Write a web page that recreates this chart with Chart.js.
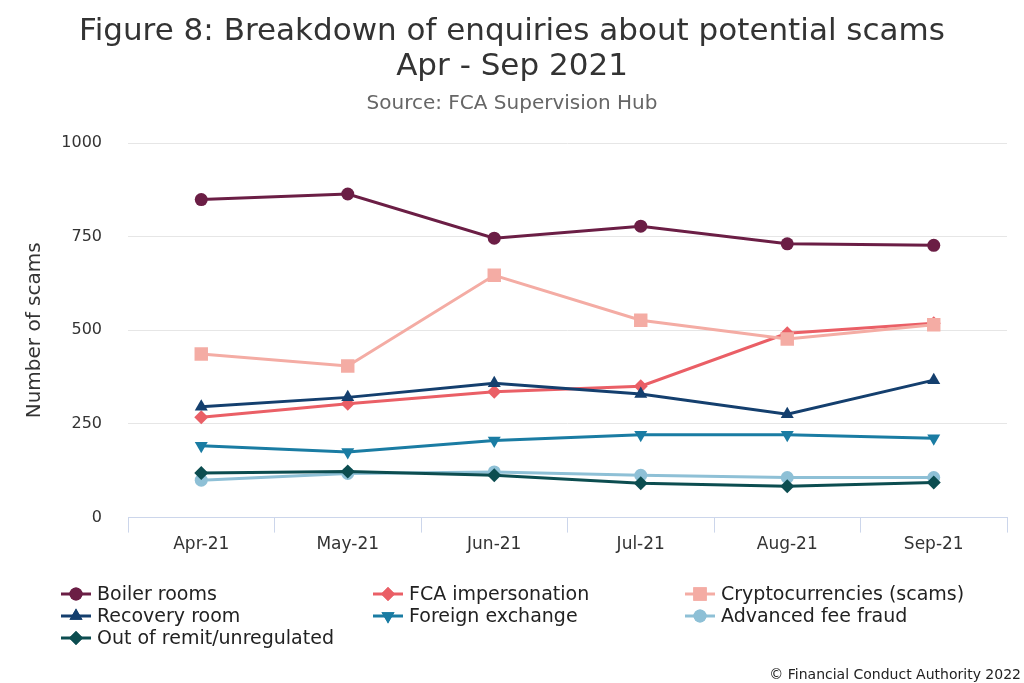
<!DOCTYPE html>
<html>
<head>
<meta charset="utf-8">
<script src="https://cdn.jsdelivr.net/npm/chart.js@4"></script>
<style>
html,body{margin:0;padding:0;background:#fff;}
#wrap{width:1024px;height:683px;position:relative;}
</style>
</head>
<body>
<div id="wrap"><canvas id="c" width="1024" height="683"></canvas></div>
<script>
const categories = ['Apr-21','May-21','Jun-21','Jul-21','Aug-21','Sep-21'];
const seriesNames = ['Boiler rooms','FCA impersonation','Cryptocurrencies (scams)','Recovery room','Foreign exchange','Advanced fee fraud','Out of remit/unregulated'];
const boilerRooms = [849, 864, 746, 778, 731, 727];
const fcaImpersonation = [268, 304, 336, 351, 492, 519];
const cryptocurrencies = [437, 405, 647, 527, 477, 515];
const recoveryRoom = [296, 321, 359, 330, 276, 367];
const foreignExchange = [192, 175, 206, 221, 221, 212];
const advancedFeeFraud = [100, 118, 122, 113, 107, 107];
const outOfRemit = [119, 123, 113, 92, 84, 94];
const yTicks = [0, 250, 500, 750, 1000];

const colors = ['#6b1e45','#ea5f66','#f4aca4','#143f6e','#1a7ca3','#8ec0d6','#0c4d50'];
const styles = ['circle','rectRot','rect','triangle','triangle','circle','rectRot'];
const rotations = [0,0,0,0,180,0,0];
const radii = [6.5,7,9.5,7.5,7.5,6.5,7];
const values = [boilerRooms, fcaImpersonation, cryptocurrencies, recoveryRoom, foreignExchange, advancedFeeFraud, outOfRemit];

const FONT = "'DejaVu Sans', Verdana, sans-serif";

const datasets = seriesNames.map((n,i)=>({
  label:n,
  data:values[i],
  yAxisID:'y',
  borderColor:colors[i],
  backgroundColor:colors[i],
  pointBackgroundColor:colors[i],
  pointBorderColor:colors[i],
  pointBorderWidth:0,
  pointStyle:styles[i],
  rotation:rotations[i],
  pointRadius:radii[i],
  pointHoverRadius:radii[i],
  borderWidth:3,
  tension:0,
  order: -i
}));

const legendPlugin = {
  id:'customLegend',
  afterDraw(chart){
    const ctx = chart.ctx;
    const colsX = [61, 373, 685];
    const rowsY = [594, 616, 638];
    ctx.save();
    chart.data.datasets.forEach((ds,i)=>{
      const col = i % 3, row = Math.floor(i/3);
      const x0 = colsX[col], y = rowsY[row];
      ctx.strokeStyle = ds.borderColor;
      ctx.lineWidth = 3;
      ctx.beginPath(); ctx.moveTo(x0, y); ctx.lineTo(x0+30, y); ctx.stroke();
      ctx.fillStyle = ds.borderColor;
      Chart.helpers.drawPoint(ctx, {pointStyle: ds.pointStyle, rotation: ds.rotation, radius: ds.pointRadius, borderWidth: 0}, x0+15, y);
      ctx.fill();
      ctx.fillStyle = '#222';
      ctx.font = "19px " + FONT;
      ctx.textBaseline = 'middle';
      ctx.textAlign = 'left';
      ctx.fillText(ds.label, x0+36, y+1);
    });
    ctx.font = "14px " + FONT;
    ctx.fillStyle = '#222';
    ctx.textAlign = 'right';
    ctx.textBaseline = 'middle';
    ctx.fillText('\u00A9 Financial Conduct Authority 2022', 1021, 675);
    ctx.restore();
  }
};

new Chart(document.getElementById('c'), {
  type:'line',
  data:{labels:categories, datasets:datasets},
  options:{
    responsive:false,
    animation:false,
    devicePixelRatio:1,
    layout:{padding:{left:0,right:0,top:0,bottom:126}},
    plugins:{
      legend:{display:false},
      tooltip:{enabled:false},
      title:{
        display:true,
        text:['Figure 8: Breakdown of enquiries about potential scams','Apr - Sep 2021'],
        color:'#333333',
        font:{family:FONT,size:31,weight:'normal',lineHeight:1.13},
        padding:{top:14,bottom:8}
      },
      subtitle:{
        display:true,
        text:'Source: FCA Supervision Hub',
        color:'#666666',
        font:{family:FONT,size:20,weight:'normal',lineHeight:1.2},
        padding:{top:0,bottom:27}
      }
    },
    scales:{
      x:{
        offset:true,
        grid:{display:true,drawOnChartArea:false,drawTicks:true,tickLength:15,color:'#ccd6eb',offset:true},
        border:{display:true,color:'#ccd6eb',width:1},
        ticks:{color:'#333',font:{family:FONT,size:17},padding:2,maxRotation:0}
      },
      y:{
        position:'left',
        min:0,max:1000,
        afterBuildTicks(scale){ scale.ticks = yTicks.map(v=>({value:v})); },
        afterFit(scale){ scale.width = 128; },
        grid:{color:'#e6e6e6',drawTicks:false,lineWidth:1},
        border:{display:false},
        ticks:{color:'#333',font:{family:FONT,size:16},padding:26,callback:(v)=>String(v)},
        title:{display:true,text:'Number of scams',color:'#333',font:{family:FONT,size:20},padding:{top:23,bottom:0}}
      },
      yR:{
        type:'linear',
        position:'right',
        min:0,max:1000,
        afterFit(scale){ scale.width = 17; },
        grid:{display:false,drawTicks:false},
        border:{display:false},
        ticks:{display:false}
      }
    }
  },
  plugins:[legendPlugin]
});
</script>
</body>
</html>
